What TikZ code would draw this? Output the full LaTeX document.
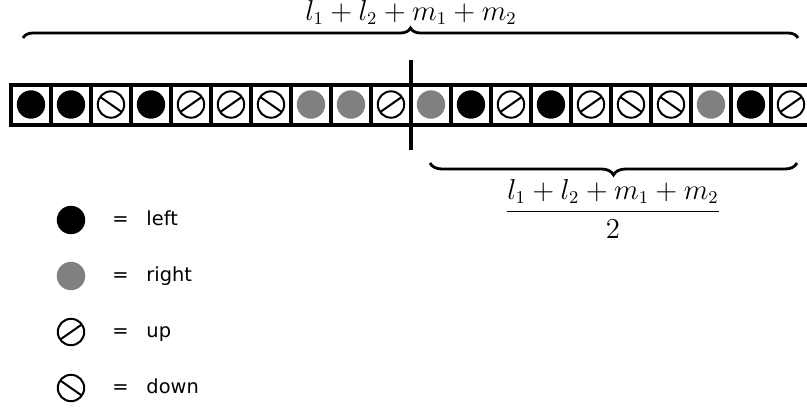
\documentclass[tikz,border=0pt]{standalone}
\usepackage{amsmath}
\usepackage{fontspec}
\newfontfamily\legendfont{DejaVu Sans}
\usetikzlibrary{positioning,calc,decorations.pathreplacing}

\begin{document}
\begin{tikzpicture}[x=0.5pt,y=-0.5pt,
  sym/.style={minimum size=20pt,inner sep=0pt,outer sep=0pt},
  L/.style={sym,path picture={\fill[black](path picture bounding box.center) circle (7.1pt);}},
  R/.style={sym,path picture={\fill[gray](path picture bounding box.center) circle (7.1pt);}},
  U/.style={sym,path picture={\draw[line width=1pt](path picture bounding box.center) circle (6.6pt) (path picture bounding box.center) +(215:6.6pt) -- +(35:6.6pt);}},
  D/.style={sym,path picture={\draw[line width=1pt](path picture bounding box.center) circle (6.6pt) (path picture bounding box.center) +(145:6.6pt) -- +(-35:6.6pt);}},
  cell/.style={draw,line width=2pt},
  brc/.style={decorate,decoration={brace,amplitude=#1},line width=1.4pt},
  key/.style={font=\legendfont\fontsize{9.7}{12}\selectfont,inner sep=0pt,text height=1.6ex,text depth=.3ex},
  sum/.style={font=\fontsize{13.5}{16}\selectfont}]
  \useasboundingbox[fill=white] (0,0) rectangle (807,408);
  \node[cell,L](c1) at (31,104.5){};
  \node[cell,L,right=0pt of c1](c2){}; \node[cell,D,right=0pt of c2](c3){};
  \node[cell,L,right=0pt of c3](c4){}; \node[cell,U,right=0pt of c4](c5){};
  \node[cell,U,right=0pt of c5](c6){}; \node[cell,D,right=0pt of c6](c7){};
  \node[cell,R,right=0pt of c7](c8){}; \node[cell,R,right=0pt of c8](c9){};
  \node[cell,U,right=0pt of c9](c10){}; \node[cell,R,right=0pt of c10](c11){};
  \node[cell,L,right=0pt of c11](c12){}; \node[cell,U,right=0pt of c12](c13){};
  \node[cell,L,right=0pt of c13](c14){}; \node[cell,U,right=0pt of c14](c15){};
  \node[cell,D,right=0pt of c15](c16){}; \node[cell,D,right=0pt of c16](c17){};
  \node[cell,R,right=0pt of c17](c18){}; \node[cell,L,right=0pt of c18](c19){};
  \node[cell,U,right=0pt of c19](c20){};
  \coordinate(cutT) at ($(c10.east)+(0,-45)$); \coordinate(cutB) at ($(c10.east)+(0,45)$);
  \draw[line width=2pt](cutT)--(cutB);
  \draw[brc=5pt](23,38)--(798,38);
  \node[sum](tot) at (411,12.5){$l_1+l_2+m_1+m_2$};
  \draw[brc=6pt](797,163)--(430,163);
  \node[sum](half) at (613,209){$\dfrac{l_1+l_2+m_1+m_2}{2}$};
  \node[L](kL) at (71,220){}; \node[R](kR) at (71,276){};
  \node[U](kU) at (71,332){}; \node[D](kD) at (71,388){};
  \node[key,right=10.5pt of kL](eL){=}; \node[key,right=8.5pt of eL](tL){left};
  \node[key,right=10.5pt of kR](eR){=}; \node[key,right=8.5pt of eR](tR){right};
  \node[key,right=10.5pt of kU](eU){=}; \node[key,right=8.5pt of eU](tU){up};
  \node[key,right=10.5pt of kD](eD){=}; \node[key,right=8.5pt of eD](tD){down};
\end{tikzpicture}
\end{document}
